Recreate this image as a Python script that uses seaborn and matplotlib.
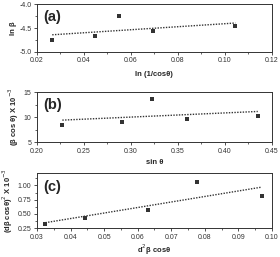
import numpy as np
import pandas as pd
import matplotlib
matplotlib.use("Agg")
import matplotlib.pyplot as plt
import seaborn as sns
from matplotlib.ticker import AutoMinorLocator

# panel (a)
a_x = [0.0265, 0.0445, 0.055, 0.0695, 0.1045]
a_y = [-4.75, -4.67, -4.24, -4.56, -4.46]
# panel (b)
b_x = [0.227, 0.291, 0.322, 0.360, 0.435]
b_y = [8.4, 9.0, 13.7, 9.7, 10.3]
# panel (c)
c_x = [0.0325, 0.0443, 0.0632, 0.0778, 0.097]
c_y = [0.33, 0.43, 0.57, 1.06, 0.82]

sns.set_style("ticks")
plt.rcParams['font.family'] = ['Liberation Sans', 'DejaVu Sans']

fig = plt.figure(figsize=(2.8, 2.57), dpi=100)
boxes = [[0.132, 0.798, 0.839, 0.186],
         [0.132, 0.447, 0.839, 0.195],
         [0.132, 0.112, 0.839, 0.215]]
panels = [
    (a_x, a_y, "(a)", "ln (1/cos\u03b8)", "ln \u03b2", (0.02, 0.12), (-5.0, -4.0),
     np.arange(0.02, 0.121, 0.02), [-5.0, -4.5, -4.0], "%.2f", "%.1f", 5),
    (b_x, b_y, "(b)", "sin \u03b8", "(\u03b2 cos \u03b8) X 10$^{-3}$", (0.20, 0.45), (5, 15),
     np.arange(0.20, 0.451, 0.05), [5, 10, 15], "%.2f", "%d", 3),
    (c_x, c_y, "(c)", "d$^2$\u03b2 cos\u03b8", "(d\u03b2 cos\u03b8)$^2$ X 10$^{-3}$", (0.03, 0.10), (0.25, 1.22),
     np.arange(0.03, 0.101, 0.01), [0.25, 0.50, 0.75, 1.00], "%.2f", "%.2f", 1.5),
]

for box, (x, y, tag, xl, yl, xlim, ylim, xt, yt, xf, yf, lp) in zip(boxes, panels):
    ax = fig.add_axes(box)
    df = pd.DataFrame({"x": x, "y": y})
    sns.regplot(data=df, x="x", y="y", ax=ax, ci=None, marker="s",
                scatter_kws={"s": 9, "color": "black", "linewidths": 0},
                line_kws={"color": "#333333", "lw": 1.0, "ls": (0, (1, 1))})
    ax.set_xlim(*xlim)
    ax.set_ylim(*ylim)
    ax.set_xticks(xt)
    ax.set_yticks(yt)
    ax.set_xticklabels([xf % v for v in xt])
    ax.set_yticklabels([yf % v for v in yt])
    ax.xaxis.set_minor_locator(AutoMinorLocator(2))
    ax.yaxis.set_minor_locator(AutoMinorLocator(2))
    ax.tick_params(which="major", length=2.5, width=0.6, labelsize=5, pad=1.5, colors="#333333")
    ax.tick_params(which="minor", length=1.5, width=0.5)
    for s in ax.spines.values():
        s.set_linewidth(0.7)
        s.set_color("#333333")
    ax.set_xlabel(xl, fontsize=5.5, fontweight="bold", labelpad=lp)
    ax.set_ylabel(yl, fontsize=5.5, fontweight="bold", labelpad=2)
    ax.text(0.025, 0.88, tag, transform=ax.transAxes, fontsize=10.5,
            fontweight="bold", va="top", ha="left")

fig.savefig("out.png", dpi=100)
